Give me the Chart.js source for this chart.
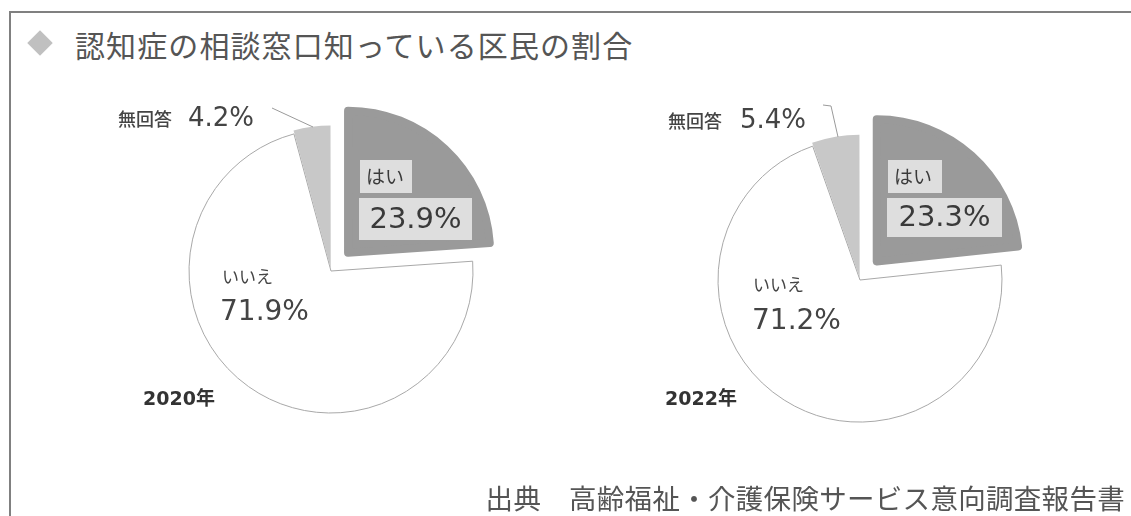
<!DOCTYPE html>
<html lang="ja">
<head>
<meta charset="utf-8">
<script src="https://cdn.jsdelivr.net/npm/chart.js@4.4.1/dist/chart.umd.min.js"></script>
<style>
  html, body { margin: 0; padding: 0; background: #fff; }
  body { width: 1131px; height: 516px; position: relative; overflow: hidden; font-family: "Noto Sans CJK JP", sans-serif; }
  .frame { position: absolute; left: 9px; top: 11px; right: -10px; bottom: -10px; border-top: 2px solid #808080; border-left: 2px solid #808080; }
  .diamond { position: absolute; left: 31px; top: 34px; width: 18px; height: 18px; background: #c0c0c0; transform: rotate(45deg); }
  .title { position: absolute; left: 75px; top: 26px; font-size: 30px; line-height: 36px; color: #555; letter-spacing: 1.1px; white-space: nowrap; }
  .source { position: absolute; right: 6px; top: 480px; font-size: 27.5px; line-height: 34px; color: #555; letter-spacing: 0.3px; white-space: nowrap; }
  .pie { position: absolute; width: 480px; height: 400px; }
  #pie2020 { left: 91px; top: 71px; }
  #pie2022 { left: 620px; top: 80px; }
</style>
</head>
<body>
<div class="frame"></div>
<div class="diamond"></div>
<div class="title">認知症の相談窓口知っている区民の割合</div>
<div class="pie" id="pie2020"><canvas id="c2020" width="480" height="400"></canvas></div>
<div class="pie" id="pie2022"><canvas id="c2022" width="480" height="400"></canvas></div>
<div class="source">出典　高齢福祉・介護保険サービス意向調査報告書</div>

<script>
// answers, clockwise from 12 o'clock
const answers = ['はい', 'いいえ', '無回答'];
const years = ['2020年', '2022年'];
const values2020 = [23.9, 71.9, 4.2];
const values2022 = [23.3, 71.2, 5.4];

const NUM_FONT = '"DejaVu Sans", "Noto Sans CJK JP", sans-serif';
const JP_FONT = '"Noto Sans CJK JP", sans-serif';

// draws the data labels next to / inside the slices
const pieLabels = {
  id: 'pieLabels',
  afterDatasetsDraw(chart, args, opts) {
    const ctx = chart.ctx;
    const arc = chart.getDatasetMeta(0).data[0];
    const cx = arc.x, cy = arc.y;
    const vals = chart.data.datasets[0].data;
    const names = chart.data.labels;
    const p = opts.pos;
    const pct = (v) => v.toFixed(1) + '%';

    ctx.save();
    ctx.textBaseline = 'middle';

    // はい : boxed labels inside the exploded slice
    ctx.fillStyle = '#dedede';
    ctx.fillRect(cx + p.yesBox[0], cy + p.yesBox[1], p.yesBox[2], p.yesBox[3]);
    ctx.fillRect(cx + p.pctBox[0], cy + p.pctBox[1], p.pctBox[2], p.pctBox[3]);
    ctx.fillStyle = '#3a3a3a';
    ctx.textAlign = 'left';
    ctx.font = '19px ' + JP_FONT;
    ctx.fillText(names[0], cx + p.yesBox[0] + 6, cy + p.yesBox[1] + p.yesBox[3] / 2);
    ctx.textAlign = 'center';
    ctx.font = '29px ' + NUM_FONT;
    ctx.fillText(pct(vals[0]), cx + p.pctBox[0] + p.pctBox[2] / 2, cy + p.pctBox[1] + p.pctBox[3] / 2 + 1);

    // いいえ
    ctx.textAlign = 'left';
    ctx.fillStyle = '#444';
    ctx.font = '17px ' + JP_FONT;
    ctx.fillText(names[1], cx + p.no[0], cy + p.no[1]);
    ctx.font = '28px ' + NUM_FONT;
    ctx.fillText(pct(vals[1]), cx + p.noPct[0], cy + p.noPct[1]);

    // 無回答 with leader line
    ctx.font = '500 18px ' + JP_FONT;
    ctx.fillText(names[2], cx + p.na[0], cy + p.na[1]);
    ctx.font = '26px ' + NUM_FONT;
    ctx.fillText(pct(vals[2]), cx + p.naPct[0], cy + p.naPct[1]);
    ctx.strokeStyle = '#9a9a9a';
    ctx.lineWidth = 1;
    ctx.beginPath();
    p.line.forEach(([x, y], i) => {
      if (i === 0) ctx.moveTo(cx + x, cy + y);
      else ctx.lineTo(cx + x, cy + y);
    });
    ctx.stroke();

    // year
    ctx.fillStyle = '#333';
    ctx.font = 'bold 19px ' + NUM_FONT;
    ctx.fillText(opts.year, cx + p.year[0], cy + p.year[1]);
    ctx.restore();
  }
};

function makePie(id, values, year, pos) {
  return new Chart(document.getElementById(id), {
    type: 'pie',
    data: {
      labels: answers,
      datasets: [{
        data: values,
        backgroundColor: ['#9a9a9a', '#ffffff', '#c8c8c8'],
        borderColor: ['#9a9a9a', '#a8a8a8', '#c8c8c8'],
        borderWidth: [8, 1, 0],
        borderJoinStyle: 'round',
        offset: [100, 0, 8],
      }],
    },
    options: {
      responsive: false,
      animation: false,
      events: [],
      radius: 142,
      layout: { padding: 0 },
      plugins: {
        legend: { display: false },
        tooltip: { enabled: false },
        pieLabels: { year, pos },
      },
    },
    plugins: [pieLabels],
  });
}

makePie('c2020', values2020, years[0], {
  yesBox: [29, -111, 52, 33],
  pctBox: [28, -73, 113, 42],
  no: [-109, 6],
  noPct: [-111, 42],
  na: [-213, -152],
  naPct: [-143, -152],
  line: [[-59, -163], [-18, -144]],
  year: [-188, 129],
});

makePie('c2022', values2022, years[1], {
  yesBox: [28, -120, 54, 33],
  pctBox: [27, -82, 115, 39],
  no: [-107, 5],
  noPct: [-108, 42],
  na: [-192, -159],
  naPct: [-120, -159],
  line: [[-37, -175], [-29, -174], [-22, -143]],
  year: [-195, 120],
});
</script>
</body>
</html>
